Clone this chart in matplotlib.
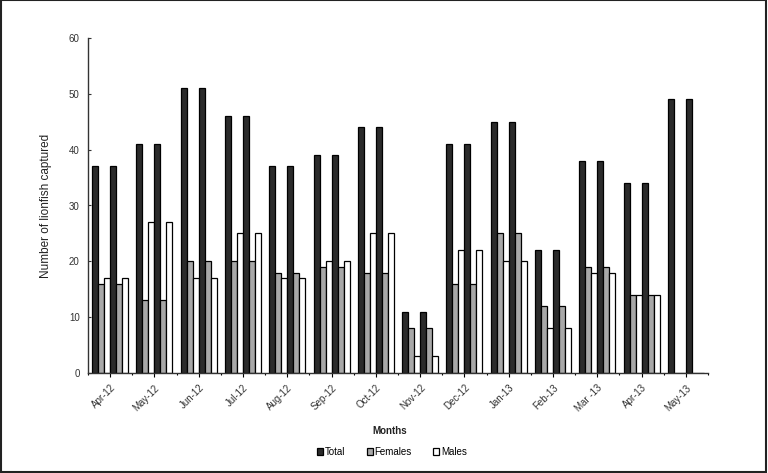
import matplotlib
matplotlib.use("Agg")
import matplotlib.pyplot as plt
import numpy as np
from matplotlib.patches import Rectangle

months = ["Apr-12", "May-12", "Jun-12", "Jul-12", "Aug-12", "Sep-12", "Oct-12",
          "Nov-12", "Dec-12", "Jan-13", "Feb-13", "Mar -13", "Apr-13", "May-13"]
total = [37, 41, 51, 46, 37, 39, 44, 11, 41, 45, 22, 38, 34, 49]
females = [16, 13, 20, 20, 18, 19, 18, 8, 16, 25, 12, 19, 14, 0]
males = [17, 27, 17, 25, 17, 20, 25, 3, 22, 20, 8, 18, 14, 0]

plt.rcParams['font.family'] = ['Liberation Sans', 'DejaVu Sans']

fig = plt.figure(figsize=(7.68, 4.73), dpi=100)
ax = fig.add_axes([88/768, 1-373/473, 620/768, 335/473])

x = np.arange(len(months)) + 0.5
w = 0.135
series = [(total, "#2b2b2b", "Total"), (females, "#a8a8a8", "Females"), (males, "white", "Males")]
for rep in range(2):
    for j, (vals, col, lab) in enumerate(series):
        k = rep*3 + j
        ax.bar(x + (k-2.5)*w, vals, width=w, color=col, edgecolor="black",
               linewidth=0.9, label=lab if rep == 0 else None)

ax.set_xlim(0, 14)
ax.set_ylim(0, 60)
ax.set_yticks(range(0, 61, 10))
ax.tick_params(axis='y', direction='in', length=2, labelsize=7, colors='#333333', width=0.8, pad=6)
ax.set_xticks(x)
ax.set_xticklabels(months, rotation=45, ha='right', rotation_mode='anchor', fontsize=7, color='#333333')
ax.set_xticks(np.arange(0, 15), minor=True)
ax.tick_params(axis='x', which='major', direction='out', length=3, width=0.8, pad=4)
ax.tick_params(axis='x', which='minor', direction='out', length=1.5, width=0.8)
for s in ['top', 'right']:
    ax.spines[s].set_visible(False)
for s in ['left', 'bottom']:
    ax.spines[s].set_color('#333333')
    ax.spines[s].set_linewidth(1.0)

ax.set_ylabel("Number of lionfish captured", fontsize=8.5, color='#222222', labelpad=12)
fig.text(390/768, 1-431/473, "Months", ha='center', va='center', fontsize=7, fontweight='bold', color='#222222')

handles, labels = ax.get_legend_handles_labels()
fig.legend(handles, labels, loc='center', bbox_to_anchor=(392/768, 1-452/473), ncol=3,
           frameon=False, fontsize=7, handlelength=0.6, handleheight=0.6,
           handletextpad=0.2, columnspacing=2.2)

fig.patches.append(Rectangle((0.001, 0.002), 0.997, 0.997, transform=fig.transFigure,
                             fill=False, edgecolor='#222222', linewidth=1.5))

fig.savefig("out.png", dpi=100)
